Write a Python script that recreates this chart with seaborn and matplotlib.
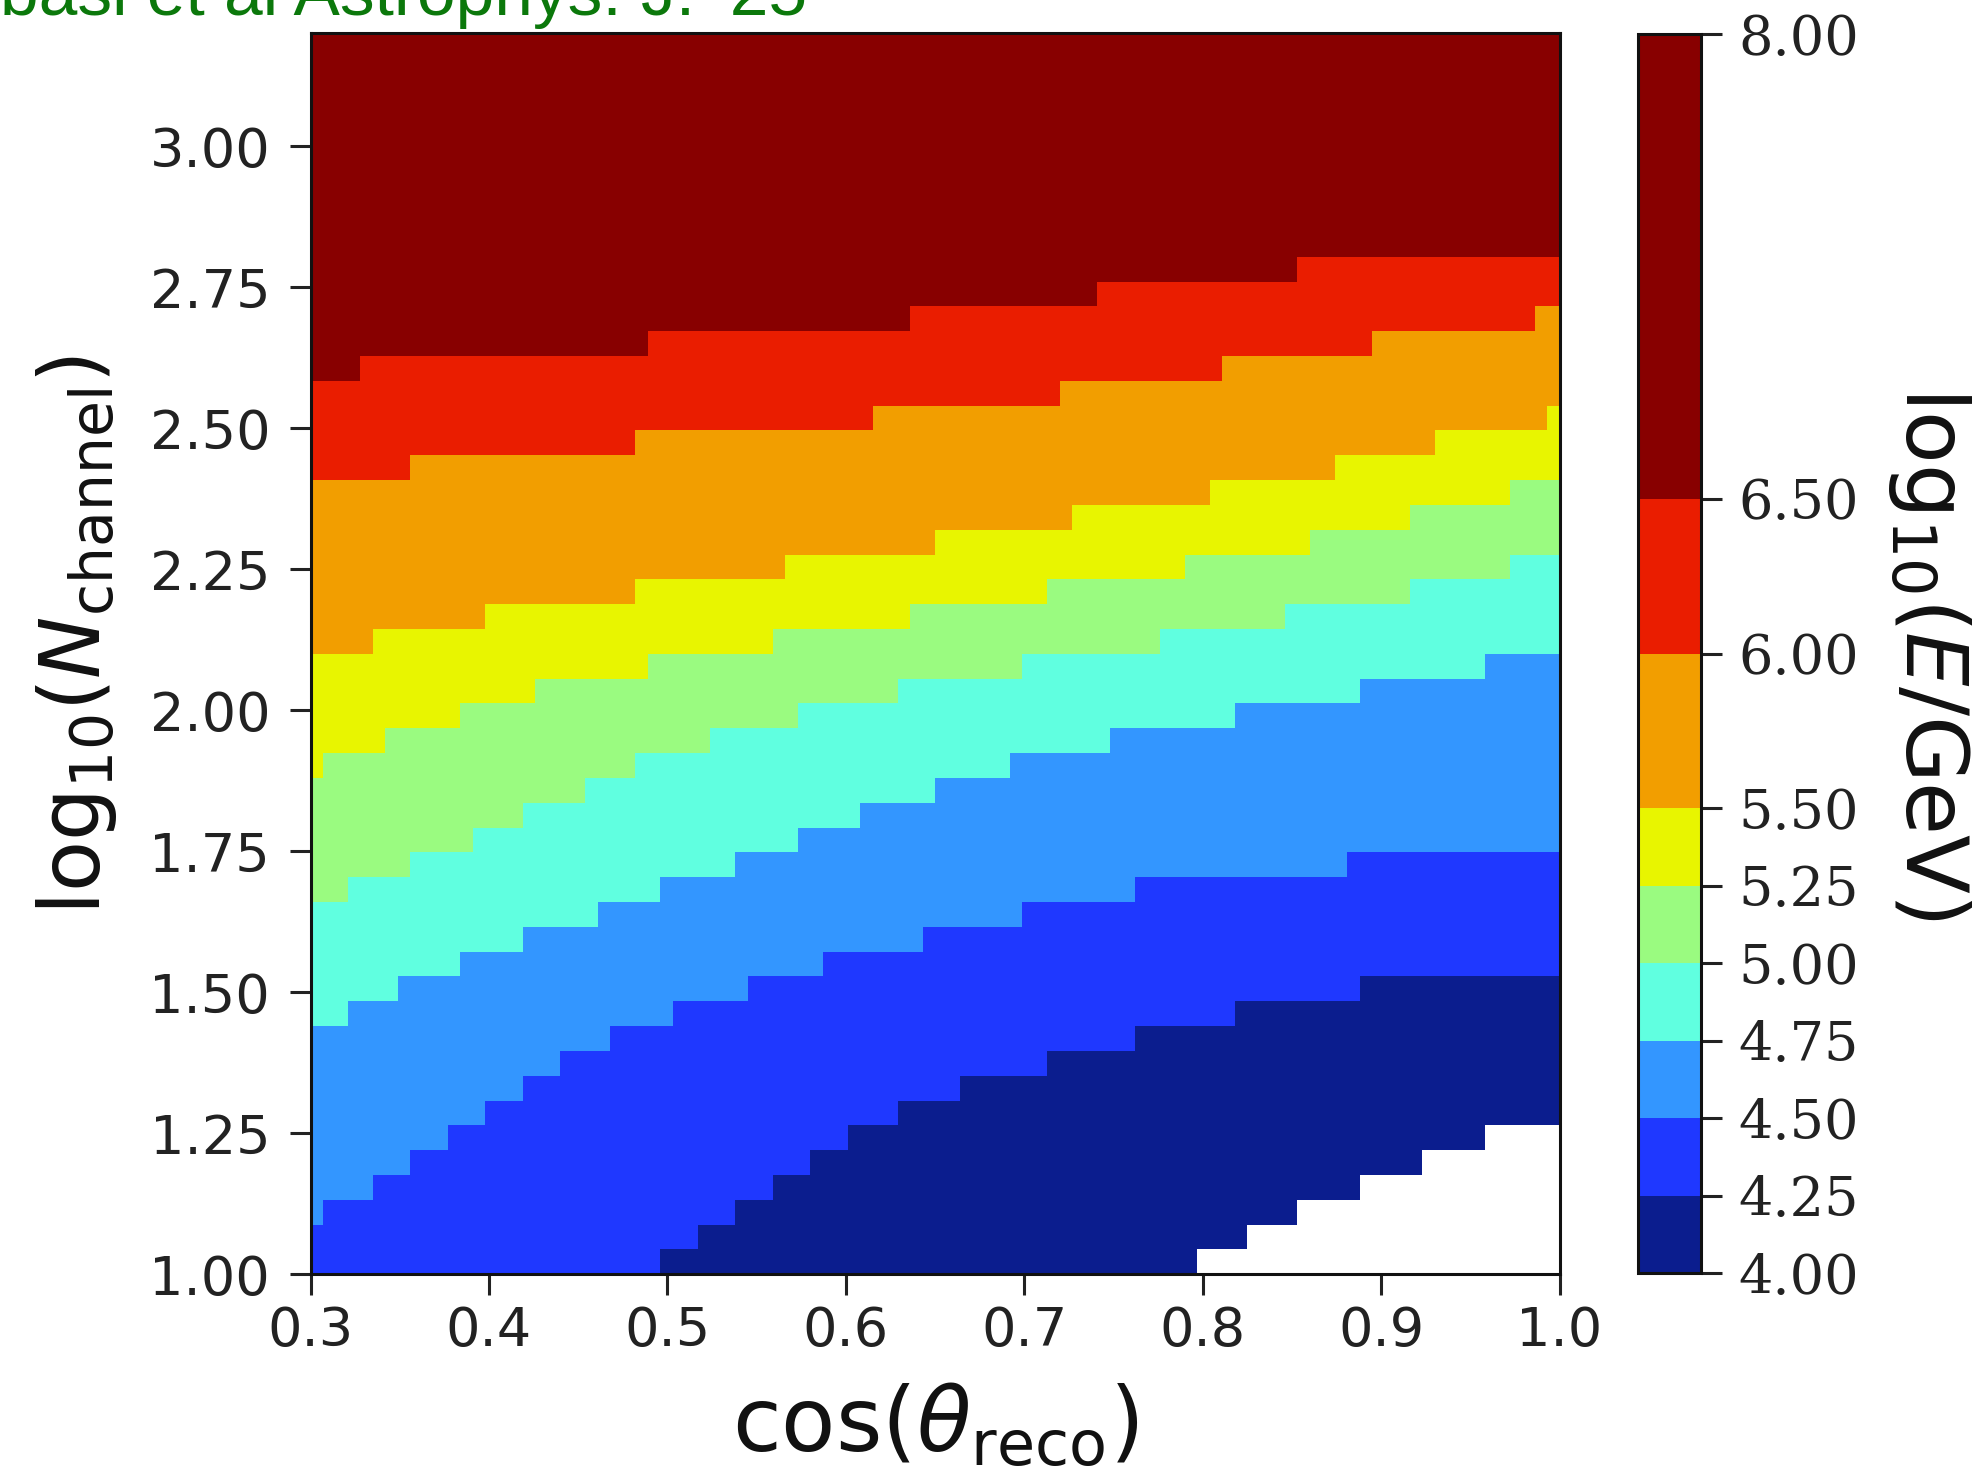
import numpy as np
import matplotlib
matplotlib.use("Agg")
import matplotlib.pyplot as plt
from matplotlib.colors import ListedColormap, BoundaryNorm
import seaborn as sns

# ---------------------------------------------------------------
# colour bands of log10(E/GeV)
# ---------------------------------------------------------------
levels = [4.00, 4.25, 4.50, 4.75, 5.00, 5.25, 5.50, 6.00, 6.50, 8.00]
band_colors = ["#0b1d8e", "#1f38ff", "#3396ff", "#60ffe0", "#9afb80",
               "#e8f500", "#f29e00", "#ea1d00", "#880000"]

# map binning: cos(theta_reco) and log10(N_channel)
cos_lo, cos_hi, n_cos = 0.3, 1.0, 100
nch_lo, nch_hi, n_nch = 1.0, 3.2, 50

# step boundaries
# *_x = cos(theta) where a step begins, *_y = log10(Nch) where the band starts
edge_400_x = [0.300, 0.797, 0.825, 0.853, 0.888, 0.923, 0.958]
edge_400_y = [1.000, 1.044, 1.088, 1.132, 1.176, 1.220, 1.264]

edge_425_x = [0.300, 0.496, 0.517, 0.538, 0.559, 0.580, 0.601, 0.629, 0.664,
              0.713, 0.762, 0.818, 0.888]
edge_425_y = [1.000, 1.044, 1.088, 1.132, 1.176, 1.220, 1.264, 1.308, 1.352,
              1.396, 1.440, 1.484, 1.528]

edge_450_x = [0.300, 0.307, 0.335, 0.356, 0.377, 0.398, 0.419, 0.440, 0.468,
              0.503, 0.545, 0.587, 0.643, 0.699, 0.762, 0.881]
edge_450_y = [1.088, 1.132, 1.176, 1.220, 1.264, 1.308, 1.352, 1.396, 1.440,
              1.484, 1.528, 1.572, 1.616, 1.660, 1.704, 1.748]

edge_475_x = [0.300, 0.321, 0.349, 0.384, 0.419, 0.461, 0.496, 0.538, 0.573,
              0.608, 0.650, 0.692, 0.748, 0.818, 0.888, 0.958]
edge_475_y = [1.440, 1.484, 1.528, 1.572, 1.616, 1.660, 1.704, 1.748, 1.792,
              1.836, 1.880, 1.924, 1.968, 2.012, 2.056, 2.100]

edge_500_x = [0.300, 0.321, 0.356, 0.391, 0.419, 0.454, 0.482, 0.524, 0.573,
              0.629, 0.699, 0.776, 0.846, 0.916, 0.972]
edge_500_y = [1.660, 1.704, 1.748, 1.792, 1.836, 1.880, 1.924, 1.968, 2.012,
              2.056, 2.100, 2.144, 2.188, 2.232, 2.276]

edge_525_x = [0.300, 0.307, 0.342, 0.384, 0.426, 0.489, 0.559, 0.636, 0.713,
              0.790, 0.860, 0.916, 0.972]
edge_525_y = [1.880, 1.924, 1.968, 2.012, 2.056, 2.100, 2.144, 2.188, 2.232,
              2.276, 2.320, 2.364, 2.408]

edge_550_x = [0.300, 0.335, 0.398, 0.482, 0.566, 0.650, 0.727, 0.804, 0.874,
              0.930, 0.993]
edge_550_y = [2.100, 2.144, 2.188, 2.232, 2.276, 2.320, 2.364, 2.408, 2.452,
              2.496, 2.540]

edge_600_x = [0.300, 0.356, 0.482, 0.615, 0.720, 0.811, 0.895, 0.986]
edge_600_y = [2.408, 2.452, 2.496, 2.540, 2.584, 2.628, 2.672, 2.716]

edge_650_x = [0.300, 0.328, 0.489, 0.636, 0.741, 0.853]
edge_650_y = [2.584, 2.628, 2.672, 2.716, 2.760, 2.804]

x_ticks = [0.3, 0.4, 0.5, 0.6, 0.7, 0.8, 0.9, 1.0]
y_ticks = [1.00, 1.25, 1.50, 1.75, 2.00, 2.25, 2.50, 2.75, 3.00]

# ---------------------------------------------------------------
# build the binned map from the boundaries
# ---------------------------------------------------------------
edges = [(edge_400_x, edge_400_y), (edge_425_x, edge_425_y),
         (edge_450_x, edge_450_y), (edge_475_x, edge_475_y),
         (edge_500_x, edge_500_y), (edge_525_x, edge_525_y),
         (edge_550_x, edge_550_y), (edge_600_x, edge_600_y),
         (edge_650_x, edge_650_y)]

x_edges = np.linspace(cos_lo, cos_hi, n_cos + 1)
y_edges = np.linspace(nch_lo, nch_hi, n_nch + 1)
xc = 0.5 * (x_edges[:-1] + x_edges[1:])
yc = 0.5 * (y_edges[:-1] + y_edges[1:])

band = np.zeros((n_nch, n_cos), dtype=int)
for ex, ey in edges:
    idx = np.searchsorted(ex, xc, side="right") - 1
    yb = np.asarray(ey)[idx]
    band += (yc[:, None] > yb[None, :]).astype(int)

mids = 0.5 * (np.array(levels[:-1]) + np.array(levels[1:]))
z = np.where(band > 0, mids[np.clip(band - 1, 0, None)], np.nan)

# ---------------------------------------------------------------
# plot
# ---------------------------------------------------------------
sns.set_theme(style="ticks")
plt.rcParams["font.family"] = ["DejaVu Sans"]
plt.rcParams["mathtext.fontset"] = "dejavusans"

fig = plt.figure(figsize=(19.88, 14.81), dpi=100)
ax = fig.add_axes([0.1562, 0.1396, 0.6283, 0.8379])
cax = fig.add_axes([0.8240, 0.1404, 0.0317, 0.8366])

cmap = ListedColormap(band_colors)
cmap.set_bad("white")
norm = BoundaryNorm(levels, cmap.N)
mesh = ax.pcolormesh(x_edges, y_edges, np.ma.masked_invalid(z),
                     cmap=cmap, norm=norm)

ax.set_xlim(cos_lo, cos_hi)
ax.set_ylim(nch_lo, nch_hi)
ax.set_xticks(x_ticks)
ax.set_xticklabels([f"{v:.1f}" for v in x_ticks])
ax.set_yticks(y_ticks)
ax.set_yticklabels([f"{v:.2f}" for v in y_ticks])
ax.tick_params(axis="both", direction="out", length=15, width=2.2,
               labelsize=39, colors="#222222")
ax.tick_params(axis="x", pad=7)
ax.tick_params(axis="y", pad=14)
for sp in ax.spines.values():
    sp.set_visible(True)
    sp.set_linewidth(2.2)
    sp.set_color("#111111")

ax.set_xlabel(r"$\cos(\theta_{\mathrm{reco}})$", fontsize=64, color="#111111",
              labelpad=18)
ax.set_ylabel(r"$\mathrm{log}_{10}(N_{\mathrm{channel}})$", fontsize=60,
              color="#111111", labelpad=22)
ax.yaxis.label.set_y(0.515)

cb = fig.colorbar(mesh, cax=cax, ticks=levels, spacing="proportional",
                  format="%.2f")
cb.outline.set_linewidth(2.2)
cb.outline.set_edgecolor("#111111")
cb.ax.tick_params(direction="out", length=15, width=2.2, labelsize=39,
                  pad=12, colors="#222222")
for t in cb.ax.get_yticklabels():
    t.set_fontfamily("DejaVu Serif")
cb.set_label(r"$\mathrm{log}_{10}(E/\mathrm{GeV})$", fontsize=62,
             rotation=270, labelpad=82, color="#111111")

# caption clipped at the top edge of the picture, as in the source image
fig.text(-0.043, 0.9899, "Abbasi et al Astrophys. J. \u201925",
         fontsize=50, color="#0b780b", family="Liberation Sans",
         ha="left", va="baseline")

fig.savefig("out.png", dpi=100)
